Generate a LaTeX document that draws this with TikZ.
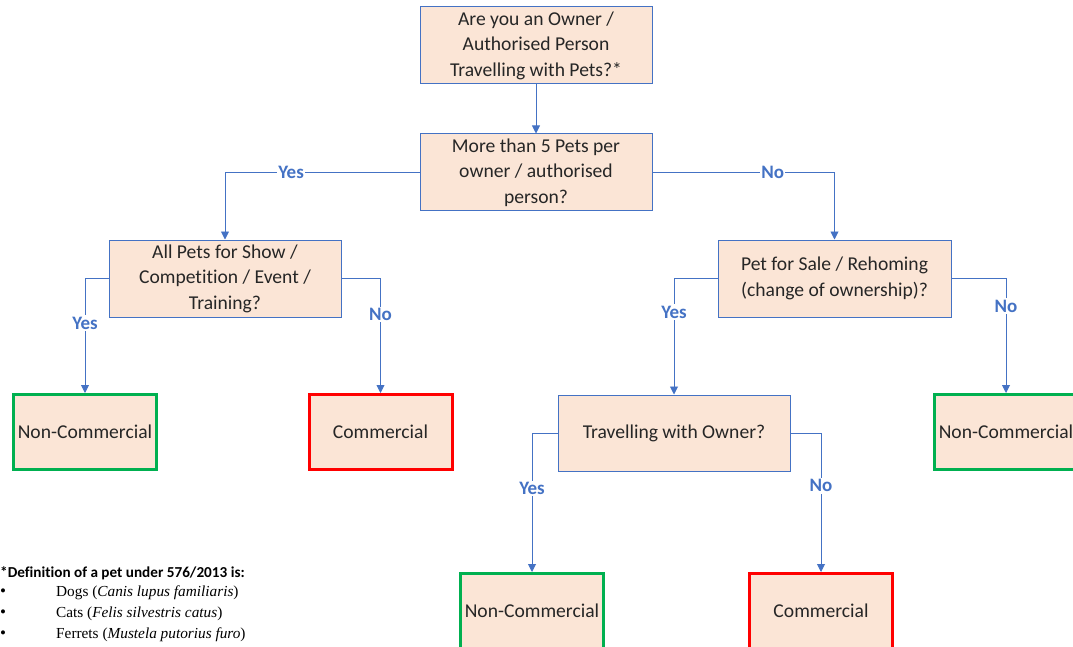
\documentclass[tikz,border=0pt]{standalone}
\usepackage{fontspec}
\setmainfont{Carlito}[Ligatures=CommonOff]
\newfontfamily\timesfont{Liberation Serif}
\usetikzlibrary{arrows.meta}
\definecolor{boxfill}{HTML}{FBE5D6}
\definecolor{officeblue}{HTML}{4472C4}
\definecolor{okgreen}{HTML}{00B050}

\begin{document}
\begin{tikzpicture}[x=1pt, y=-1pt,
    question/.style={draw=officeblue, line width=1pt, fill=boxfill, align=center,
      minimum width=232pt, minimum height=77pt, inner sep=0pt,
      font=\fontsize{19.6}{25.6}\selectfont, text=black!85},
    outcome/.style={question, line width=3pt, minimum width=143pt, minimum height=75pt},
    noncom/.style={outcome, draw=okgreen},
    com/.style={outcome, draw=red},
    link/.style={draw=officeblue, line width=0.9pt, -{Triangle[length=8pt,width=8pt]}},
    answer/.style={fill=white, text=officeblue, inner sep=1.5pt,
      font=\bfseries\fontsize{19}{21}\selectfont}]
  \useasboundingbox (0,0) rectangle (1073,647);
  \clip (0,0) rectangle (1073,647);

  % questions
  \node[question] (owner) at (536,45.5) {Are you an Owner /\\ Authorised Person\\ Travelling with Pets?*};
  \node[question] (five) at (536,172.5) {More than 5 Pets per\\ owner / authorised\\ person?};
  \node[question] (show) at (225,278.5) {All Pets for Show /\\ Competition / Event /\\ Training?};
  \node[question, minimum width=233pt] (sale) at (834.5,278.5) {Pet for Sale / Rehoming\\ (change of ownership)?};
  \node[question, minimum height=76pt] (travel) at (674,433) {Travelling with Owner?};

  % outcomes
  \node[noncom] (nc1) at (85,432) {Non-Commercial};
  \node[com] (c1) at (380.5,432) {Commercial};
  \node[noncom] (nc3) at (1006,432) {Non-Commercial};
  \node[noncom] (nc2) at (532,611) {Non-Commercial};
  \node[com] (c2) at (821,611) {Commercial};

  % connectors
  \draw[link] (owner) -- (five);
  \draw[link] (five.west) -| node[answer, pos=0.33] {Yes} (show.north);
  \draw[link] (five.east) -| node[answer, pos=0.33] {No} (sale.north);
  \draw[link] (show.west) -| node[answer, pos=0.695] {Yes} (nc1.north);
  \draw[link] (show.east) -| node[answer, pos=0.657] {No} (c1.north);
  \draw[link] (sale.west) -| node[answer, pos=0.645] {Yes} (travel.north);
  \draw[link] (sale.east) -| node[answer, pos=0.62] {No} (nc3.north);
  \draw[link] (travel.west) -| node[answer, pos=0.70] {Yes} (nc2.north);
  \draw[link] (travel.east) -| node[answer, pos=0.69] {No} (c2.north);

  % footnote
  \node[anchor=base west, inner sep=0pt, font=\bfseries\fontsize{15.2}{17}\selectfont] (defn) at (0,577)
    {*Definition of a pet under 576/2013 is:};
  \foreach \y/\pet [count=\i] in {596/{Dogs (\textit{Canis lupus familiaris})},
      617/{Cats (\textit{Felis silvestris catus})},
      638/{Ferrets (\textit{Mustela putorius furo})}} {
    \node[anchor=base west, inner sep=0pt, font=\timesfont\fontsize{17}{17}\selectfont] (bullet\i) at (0,\y) {•};
    \node[anchor=base west, inner sep=0pt, font=\timesfont\fontsize{15.3}{17}\selectfont] (pet\i) at (56,\y) {\pet};
  }
\end{tikzpicture}
\end{document}
